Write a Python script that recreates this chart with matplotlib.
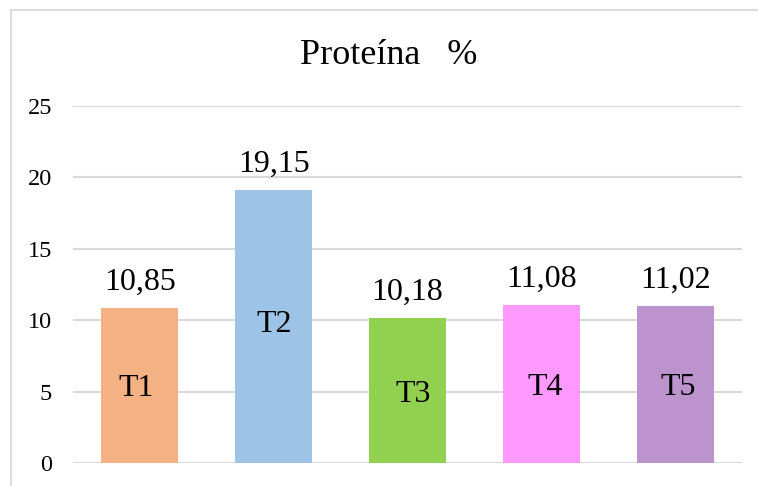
import matplotlib
matplotlib.use("Agg")
import matplotlib.pyplot as plt
from matplotlib.lines import Line2D

plt.rcParams['font.family'] = ['Liberation Serif', 'DejaVu Serif']

categories = ['T1', 'T2', 'T3', 'T4', 'T5']
values = [10.85, 19.15, 10.18, 11.08, 11.02]
value_labels = ['10,85', '19,15', '10,18', '11,08', '11,02']
colors = ['#F4B183', '#9DC3E6', '#92D050', '#FF99FF', '#BC93CD']
# where the T labels sit inside each bar (data units), as in the original
name_y = [5.2, 9.7, 4.8, 5.3, 5.3]
name_dx = [-0.03, 0.0, 0.04, 0.03, 0.02]

fig = plt.figure(figsize=(7.58, 4.86), dpi=100)
ax = fig.add_axes([73/758, 1-463/486, (742-73)/758, (463-106)/486])

x = range(len(categories))
ax.bar(x, values, width=0.575, color=colors, zorder=3)

for i, v in enumerate(values):
    ax.annotate(value_labels[i], (i, v), xytext=(0, 13), textcoords='offset points',
                ha='center', va='baseline', fontsize=23, annotation_clip=False)
    ax.text(i + name_dx[i], name_y[i], categories[i], ha='center', va='center',
            fontsize=23, zorder=4)

ax.set_xlim(-0.5, 4.5)
ax.set_ylim(0, 25)
ax.set_yticks([0, 5, 10, 15, 20, 25])
ax.set_xticks([])
ax.tick_params(axis='y', length=0, pad=15, labelsize=17.5)
ax.grid(axis='y', color='#D9D9D9', linewidth=1.5, zorder=0)
for s in ax.spines.values():
    s.set_visible(False)

fig.text(389/758, 1-55/486, 'Proteína   %', ha='center', va='center', fontsize=26)

# chart border (cropped on the right and bottom)
fig.add_artist(Line2D([11/758, 11/758], [0, 1-10/486], color='#D9D9D9', lw=1.3))
fig.add_artist(Line2D([11/758, 1], [1-10/486, 1-10/486], color='#D9D9D9', lw=1.3))

fig.savefig('out.png', dpi=100)
